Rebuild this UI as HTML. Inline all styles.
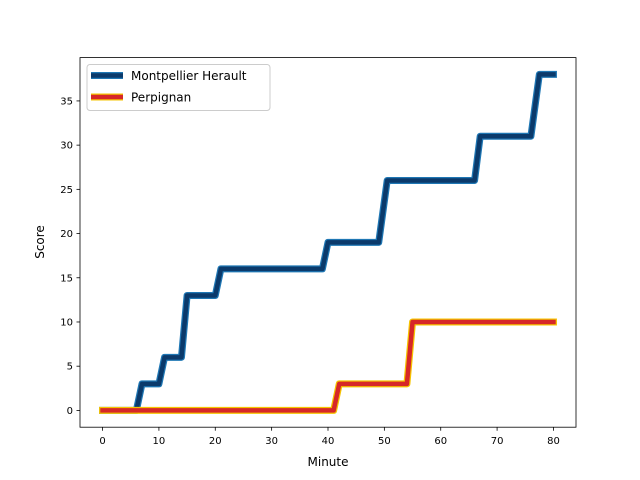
<!DOCTYPE html>
<html><head><meta charset="utf-8"><style>
body{margin:0;background:#fff}
svg{display:block;font-family:"DejaVu Sans","Liberation Sans",sans-serif}
</style></head><body>
<svg id="chart" width="640" height="480">
<rect width="640" height="480" fill="#fff"/>
<g id="lines"></g>
<rect x="80" y="57.6" width="496" height="369.6" fill="none" stroke="#000" stroke-width="0.8"/>
<g id="ticks"></g>
<text x="328" y="466" text-anchor="middle" font-size="12">Minute</text>
<text transform="translate(44,242) rotate(-90)" text-anchor="middle" font-size="12">Score</text>
<g>
<rect x="87" y="64.5" width="183" height="46" rx="3" fill="#fff" fill-opacity="0.8" stroke="#ccc" stroke-width="1"/>
<g>
<line x1="91" y1="75.5" x2="123" y2="75.5" stroke="#1f77b4" stroke-width="7"/>
<line x1="91" y1="75.5" x2="123" y2="75.5" stroke="#0b3a6b" stroke-width="4.5"/>
<text x="131" y="80" font-size="12">Montpellier Herault</text>
</g>
<g>
<line x1="91" y1="97" x2="123" y2="97" stroke="#f5c400" stroke-width="7"/>
<line x1="91" y1="97" x2="123" y2="97" stroke="#d62728" stroke-width="4.5"/>
<text x="131" y="101.5" font-size="12">Perpignan</text>
</g>
</g>
</svg>
<script>
const mhpMinutes=[0,6,7,10,11,14,15,20,21,39,40,49,50.5,66,67,76,77.5,80];
const mhpScores=[0,0,3,3,6,6,13,13,16,16,19,19,26,26,31,31,38,38];
const perMinutes=[0,41,42,54,55,80];
const perScores=[0,0,3,3,10,10];
const xTicks=[0,10,20,30,40,50,60,70,80];
const yTicks=[0,5,10,15,20,25,30,35];
const X0=80,X1=576,Y0=427.2,Y1=57.6;
const xmin=-4,xmax=84,ymin=-1.9,ymax=39.9;
const sx=v=>X0+(v-xmin)/(xmax-xmin)*(X1-X0);
const sy=v=>Y0-(v-ymin)/(ymax-ymin)*(Y0-Y1);
const NS="http://www.w3.org/2000/svg";
const lines=document.getElementById('lines');
function series(xs,ys,outer,inner,name){
  const d=xs.map((x,i)=>(i?'L':'M')+sx(x).toFixed(2)+','+sy(ys[i]).toFixed(2)).join('');
  const g=document.createElementNS(NS,'g');
  
  
  [[outer,7],[inner,4.5]].forEach(([c,w])=>{
    const p=document.createElementNS(NS,'path');
    p.setAttribute('d',d);p.setAttribute('fill','none');p.setAttribute('stroke',c);
    p.setAttribute('stroke-width',w);p.setAttribute('stroke-linejoin','round');
    p.setAttribute('stroke-linecap','square');
    g.appendChild(p);
  });
  lines.appendChild(g);
}
series(mhpMinutes,mhpScores,'#1f77b4','#0b3a6b','montpellier-line');
series(perMinutes,perScores,'#f5c400','#d62728','perpignan-line');
const t=document.getElementById('ticks');
xTicks.forEach(v=>{
  const x=sx(v);
  const l=document.createElementNS(NS,'line');
  l.setAttribute('x1',x);l.setAttribute('x2',x);l.setAttribute('y1',Y0);l.setAttribute('y2',Y0+3.5);l.setAttribute('stroke','#000');l.setAttribute('stroke-width','0.8');
  
  
  t.appendChild(l);
  const s=document.createElementNS(NS,'text');
  s.setAttribute('x',x);s.setAttribute('y',Y0+17);s.setAttribute('text-anchor','middle');s.setAttribute('font-size','10');
  s.textContent=v;
  
  
  t.appendChild(s);
});
yTicks.forEach(v=>{
  const y=sy(v);
  const l=document.createElementNS(NS,'line');
  l.setAttribute('x1',X0-3.5);l.setAttribute('x2',X0);l.setAttribute('y1',y);l.setAttribute('y2',y);l.setAttribute('stroke','#000');l.setAttribute('stroke-width','0.8');
  
  
  t.appendChild(l);
  const s=document.createElementNS(NS,'text');
  s.setAttribute('x',X0-7);s.setAttribute('y',y+3.5);s.setAttribute('text-anchor','end');s.setAttribute('font-size','10');
  s.textContent=v;
  
  
  t.appendChild(s);
});
</script>
</body></html>
